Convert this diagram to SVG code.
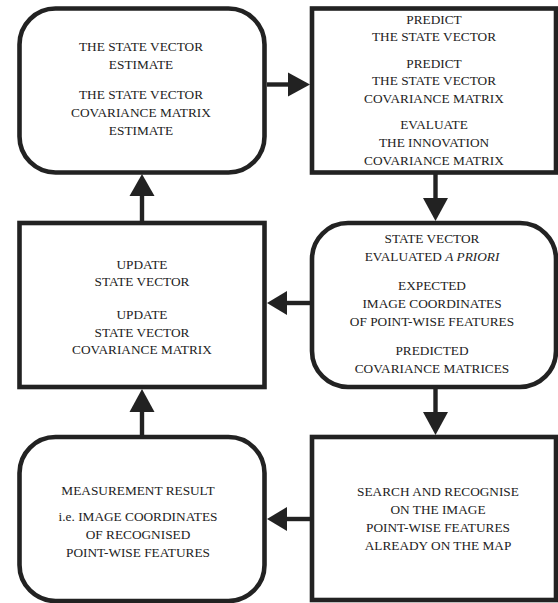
<svg xmlns="http://www.w3.org/2000/svg" width="558" height="603" viewBox="0 0 558 603">
<style>
.box{fill:#fff;stroke:#222;stroke-width:4.6}
.ln{stroke:#222;stroke-width:4.4;fill:none}
.hd{fill:#222}
text{font-family:"Liberation Serif","Times New Roman",serif;font-size:13.3px;fill:#222;text-anchor:middle}
</style>
<rect width="558" height="603" fill="#fff"/>
<g id="n1">
<rect class="box" x="19.5" y="8.5" width="245" height="164" rx="36"/>
<text x="141" y="51">THE STATE VECTOR</text>
<text x="141" y="69">ESTIMATE</text>
<text x="141" y="99">THE STATE VECTOR</text>
<text x="141" y="117">COVARIANCE MATRIX</text>
<text x="141" y="135">ESTIMATE</text>
</g>
<g id="n2">
<rect class="box" x="312" y="8.5" width="244" height="164"/>
<text x="434" y="24">PREDICT</text>
<text x="434" y="41">THE STATE VECTOR</text>
<text x="434" y="68">PREDICT</text>
<text x="434" y="85">THE STATE VECTOR</text>
<text x="434" y="103">COVARIANCE MATRIX</text>
<text x="434" y="129">EVALUATE</text>
<text x="434" y="147">THE INNOVATION</text>
<text x="434" y="165">COVARIANCE MATRIX</text>
</g>
<g id="n3">
<rect class="box" x="312" y="223" width="244" height="164" rx="36"/>
<text x="432" y="243">STATE VECTOR</text>
<text x="432" y="261">EVALUATED <tspan font-style="italic">A PRIORI</tspan></text>
<text x="432" y="290">EXPECTED</text>
<text x="432" y="308">IMAGE COORDINATES</text>
<text x="432" y="326">OF POINT-WISE FEATURES</text>
<text x="432" y="355">PREDICTED</text>
<text x="432" y="373">COVARIANCE MATRICES</text>
</g>
<g id="n4">
<rect class="box" x="19.5" y="223" width="245" height="164"/>
<text x="142" y="269">UPDATE</text>
<text x="142" y="286">STATE VECTOR</text>
<text x="142" y="319">UPDATE</text>
<text x="142" y="337">STATE VECTOR</text>
<text x="142" y="354">COVARIANCE MATRIX</text>
</g>
<g id="n5">
<rect class="box" x="312" y="437" width="244" height="163"/>
<text x="438" y="496">SEARCH AND RECOGNISE</text>
<text x="438" y="514">ON THE IMAGE</text>
<text x="438" y="532">POINT-WISE FEATURES</text>
<text x="438" y="550">ALREADY ON THE MAP</text>
</g>
<g id="n6">
<rect class="box" x="19.5" y="437" width="245" height="164" rx="36"/>
<text x="138" y="495">MEASUREMENT RESULT</text>
<text x="138" y="521">i.e. IMAGE COORDINATES</text>
<text x="138" y="539">OF RECOGNISED</text>
<text x="138" y="557">POINT-WISE FEATURES</text>
</g>
<g id="connectors">
<line class="ln" x1="267" y1="84.5" x2="290" y2="84.5"/>
<polygon class="hd" points="288,72.5 310,84.5 288,96.5"/>
<line class="ln" x1="435.5" y1="174" x2="435.5" y2="200"/>
<polygon class="hd" points="423,198 448,198 435.5,221"/>
<line class="ln" x1="310" y1="303" x2="285" y2="303"/>
<polygon class="hd" points="287,291 267,303 287,315"/>
<line class="ln" x1="142" y1="221" x2="142" y2="194"/>
<polygon class="hd" points="129.5,196 154.5,196 142,174"/>
<line class="ln" x1="435.5" y1="389" x2="435.5" y2="414"/>
<polygon class="hd" points="423,412 448,412 435.5,435"/>
<line class="ln" x1="310" y1="519" x2="285" y2="519"/>
<polygon class="hd" points="287,507 267,519 287,531"/>
<line class="ln" x1="142" y1="435" x2="142" y2="410"/>
<polygon class="hd" points="129.5,412 154.5,412 142,389"/>
</g>
</svg>
